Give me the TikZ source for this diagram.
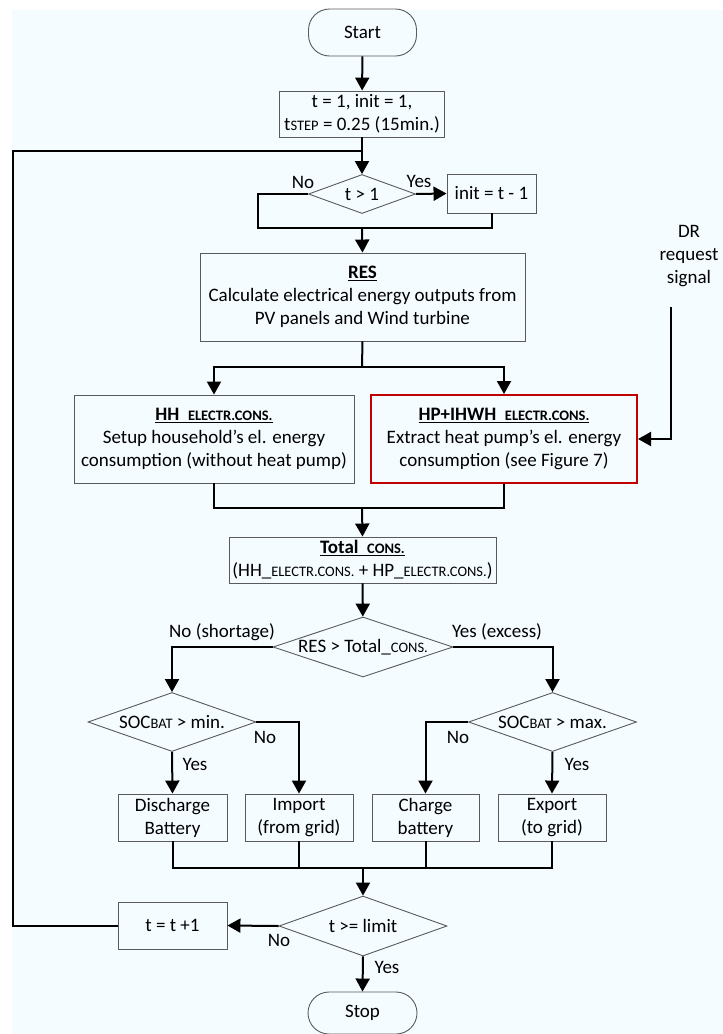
\documentclass[tikz,border=0pt]{standalone}
\usepackage{fontspec}
\setmainfont{Carlito}
\usetikzlibrary{arrows.meta,shapes.geometric}
\definecolor{bgc}{RGB}{245,252,255}
\definecolor{boxc}{RGB}{90,90,90}
\definecolor{redc}{RGB}{192,0,0}
\newcommand{\sm}[1]{{\fontsize{14.5}{14.5}\selectfont #1}}
\begin{document}
\begin{tikzpicture}[x=1pt,y=-1pt,
  every node/.style={font=\fontsize{19}{23}\selectfont, inner sep=0pt},
  proc/.style={draw=boxc, line width=0.9pt, rectangle, align=center},
  term/.style={draw=boxc, line width=0.9pt, rectangle, rounded corners=21pt},
  dec/.style={draw=boxc, line width=0.9pt, diamond},
  conn/.style={line width=2pt, black},
  arr/.style={conn, -{Triangle[length=13pt,width=14pt]}},
  lbl/.style={inner sep=0pt}]
\useasboundingbox (0,0) rectangle (723,1034);
\fill[bgc] (12,10) rectangle (723,1034);

% nodes
\node[term, minimum width=108pt, minimum height=47pt] (start) at (362.5,32.5) {Start};
\node[proc, minimum width=165pt, minimum height=46pt] (init) at (362,114) {t = 1, init = 1,\\t\sm{STEP} = 0.25 (15min.)};
\node[dec, minimum width=107pt, minimum height=39pt, label={center:t > 1}] (d1) at (362,194) {};
\node[proc, minimum width=89pt, minimum height=39pt] (initt) at (491.5,193.5) {init = t - 1};
\node[proc, minimum width=325pt, minimum height=88pt] (res) at (362.5,297) {\underline{\textbf{RES}}\\Calculate electrical energy outputs from\\PV panels and Wind turbine};
\node[proc, minimum width=280pt, minimum height=88pt] (hh) at (214,439) {\underline{\textbf{HH\ \ \sm{ELECTR.CONS.}}}\\Setup household’s el. energy\\consumption (without heat pump)};
\node[proc, draw=redc, line width=2pt, minimum width=266pt, minimum height=88pt] (hp) at (504,439) {\underline{\textbf{HP+IHWH\ \ \sm{ELECTR.CONS.}}}\\Extract heat pump’s el. energy\\consumption (see Figure 7)};
\node[align=center] (dr) at (689,256) {DR\\request\\signal};
\coordinate (drs) at (671,307);
\node[proc, minimum width=267pt, minimum height=46pt] (total) at (362.5,560) {\underline{\textbf{Total\ \ \sm{CONS.}}}\\(HH\_\sm{ELECTR.CONS.} + HP\_\sm{ELECTR.CONS.})};
\node[dec, minimum width=180pt, minimum height=60pt, label={center:RES > Total\_\sm{CONS.}}] (d2) at (363,647) {};
\node[dec, minimum width=168pt, minimum height=59pt, label={center:SOC\sm{BAT} > min.}] (soc1) at (172,722) {};
\node[dec, minimum width=168pt, minimum height=59pt, label={center:SOC\sm{BAT} > max.}] (soc2) at (552.5,722) {};
\node[proc, minimum width=109pt, minimum height=47pt] (dis) at (172.5,817.5) {Discharge\\Battery};
\node[proc, minimum width=108pt, minimum height=47pt] (imp) at (299,817.5) {Import\\(from grid)};
\node[proc, minimum width=107pt, minimum height=47pt] (chg) at (425.5,817.5) {Charge\\battery};
\node[proc, minimum width=108pt, minimum height=47pt] (exp) at (552,817.5) {Export\\(to grid)};
\node[dec, minimum width=168pt, minimum height=60pt, label={center:t >= limit}] (d3) at (363,926) {};
\node[proc, minimum width=109pt, minimum height=47pt] (tinc) at (172.5,925.5) {t = t +1};
\node[term, minimum width=109pt, minimum height=42pt] (stop) at (362.5,1013) {Stop};

% labels
\node[lbl] (l1) at (303,182) {No};
\node[lbl] (l2) at (419,181) {Yes};
\node[lbl] (l3) at (222,632) {No (shortage)};
\node[lbl] (l4) at (497,632) {Yes (excess)};
\node[lbl] (l5) at (265,737) {No};
\node[lbl] (l6) at (195,764) {Yes};
\node[lbl] (l7) at (458,737) {No};
\node[lbl] (l8) at (577,764) {Yes};
\node[lbl] (l9) at (279,940) {No};
\node[lbl] (l10) at (387,967) {Yes};

% helper coordinates
\coordinate (loop) at (362,151);
\coordinate (lft) at (13,151);
\coordinate (m1) at (362,228);
\coordinate (m1l) at (258,228);
\coordinate (sp1) at (362,367);
\coordinate (m2) at (362,508);
\coordinate (m3l) at (172.5,868);
\coordinate (m3r) at (552,868);
\coordinate (m3) at (363,868);

% connectors
\draw[arr] (start) -- (init);
\draw[arr] (init) -- (d1);
\draw[arr] (d1.east) -- (initt.west);
\draw[conn] (d1.west) -| (m1l) -- (m1);
\draw[conn] (initt.south) |- (m1);
\draw[arr] (m1) -- (res.north);
\draw[conn] (res.south) -- (sp1);
\draw[arr] (sp1) -| (hh.north);
\draw[arr] (sp1) -| (hp.north);
\draw[arr] (drs) |- (hp.east);
\draw[conn] (hh.south) |- (m2);
\draw[conn] (hp.south) |- (m2);
\draw[arr] (m2) -- (total.north);
\draw[arr] (total) -- (d2);
\draw[arr] (d2.west) -| (soc1.north);
\draw[arr] (d2.east) -| (soc2.north);
\draw[arr] (soc1.south) -- (dis.north);
\draw[arr] (soc1.east) -| (imp.north);
\draw[arr] (soc2.west) -| (chg.north);
\draw[arr] (soc2.south) -- (exp.north);
\draw[conn] (dis.south) |- (m3l) -- (m3r) -- (exp.south);
\draw[conn] (imp.south) -- (imp.south |- m3l);
\draw[conn] (chg.south) -- (chg.south |- m3l);
\draw[arr] (m3) -- (d3.north);
\draw[arr] (d3.west) -- (tinc.east);
\draw[conn] (tinc.west) -| (lft) -- (loop);
\draw[arr] (d3.south) -- (stop.north);
\end{tikzpicture}
\end{document}
